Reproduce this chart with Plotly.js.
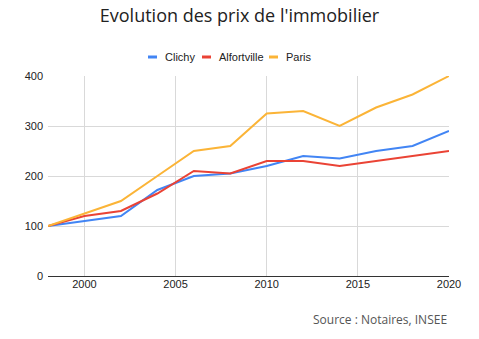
<!DOCTYPE html>
<html><head><meta charset="utf-8">
<script src="https://cdn.plot.ly/plotly-3.0.1.min.js"></script>
<style>html,body{margin:0;padding:0;background:#fff}#c{width:479px;height:339px}</style>
</head><body><div id="c"></div>
<script>
const years = [1998, 2000, 2002, 2004, 2006, 2008, 2010, 2012, 2014, 2016, 2018, 2020];
const clichy = [100, 110, 120, 172, 200, 205, 220, 240, 235, 250, 260, 290];
const alfortville = [100, 120, 130, 165, 210, 205, 230, 230, 220, 230, 240, 250];
const paris = [100, 125, 150, 200, 250, 260, 325, 330, 300, 337, 363, 400];
const seriesNames = ['Clichy', 'Alfortville', 'Paris'];
const colors = ['#4285F4', '#EA4335', '#FBB437'];
const xTicks = [2000, 2005, 2010, 2015, 2020];
const yTicks = [0, 100, 200, 300, 400];

const data = [clichy, alfortville, paris].map((v, i) => ({
  x: years, y: v, name: seriesNames[i], type: 'scatter', mode: 'lines',
  line: {color: colors[i], width: 2}, showlegend: false
}));

// custom compact legend (Google-Charts style short swatches)
const W = 401, H = 200, L = 48, B = 276;
const px = x => (x - L) / W, py = y => (B - y) / H;
const legendSwatchX = [148, 202, 269];
const legendY = 57;
const shapes = legendSwatchX.map((x0, i) => ({
  type: 'line', xref: 'paper', yref: 'paper', x0: px(x0), x1: px(x0 + 9), y0: py(legendY), y1: py(legendY),
  line: {color: colors[i], width: 3}
}));
const legendAnn = legendSwatchX.map((x0, i) => ({
  text: seriesNames[i], xref: 'paper', yref: 'paper', x: px(x0 + 15), xanchor: 'left', y: py(legendY), yanchor: 'middle',
  showarrow: false, font: {family: 'Liberation Sans, Arial', size: 11, color: '#222'}
}));

const layout = {
  width: 479, height: 339,
  margin: {l: 48, r: 30, t: 76, b: 63},
  paper_bgcolor: '#fff', plot_bgcolor: '#fff',
  title: {text: "Evolution des prix de l'immobilier", x: 0.5, xanchor: 'center', y: 0.955, yanchor: 'middle',
    font: {family: 'Open Sans', size: 18, color: '#222'}},
  showlegend: false,
  xaxis: {range: [1998, 2020], tickvals: xTicks, ticktext: xTicks.map(String),
    showgrid: true, gridcolor: '#d9d9d9', gridwidth: 1, zeroline: false, showline: false,
    ticks: '', tickfont: {family: 'Liberation Sans, Arial', size: 11, color: '#222'}, fixedrange: true},
  yaxis: {range: [0, 400], tickvals: yTicks, showgrid: true, gridcolor: '#d9d9d9', gridwidth: 1,
    zeroline: true, zerolinecolor: '#333', zerolinewidth: 1, showline: false, ticks: '',
    tickfont: {family: 'Liberation Sans, Arial', size: 11, color: '#222'}, ticklabelstandoff: 4},
  shapes: shapes,
  annotations: legendAnn.concat([{text: 'Source : Notaires, INSEE', xref: 'paper', yref: 'paper', x: 1.0, xanchor: 'right',
    y: py(319), yanchor: 'middle', showarrow: false, font: {family: 'Open Sans', size: 12, color: '#555'}}])
};
Plotly.newPlot('c', data, layout, {displayModeBar: false, staticPlot: true});
</script></body></html>
